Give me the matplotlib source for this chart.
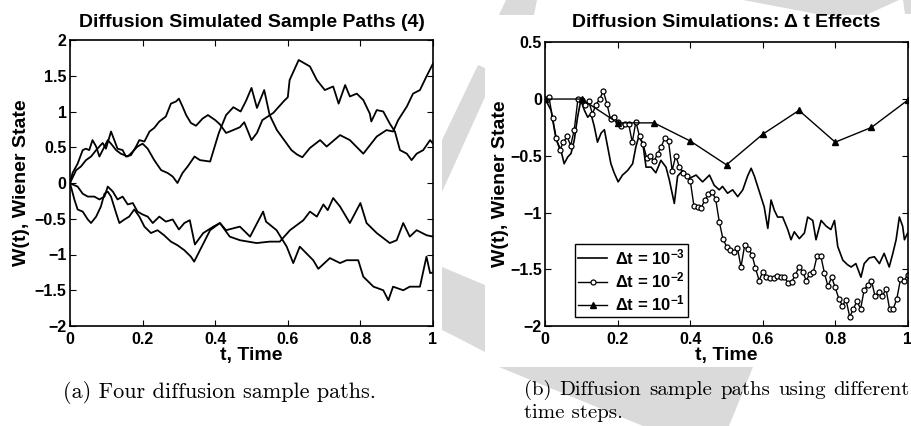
import matplotlib
matplotlib.use('Agg')
import numpy as np
import matplotlib.pyplot as plt
from matplotlib.patches import Polygon

plt.rcParams['font.family'] = ['Liberation Sans', 'DejaVu Sans']
plt.rcParams['font.weight'] = 'bold'
plt.rcParams['mathtext.fontset'] = 'custom'
plt.rcParams['mathtext.rm'] = 'Liberation Sans:bold'
plt.rcParams['mathtext.it'] = 'Liberation Sans:bold'
plt.rcParams['mathtext.bf'] = 'Liberation Sans:bold'
plt.rcParams['mathtext.default'] = 'bf'

# left panel: four sample paths
path_a_t = [0, 0.017, 0.03, 0.044, 0.058, 0.072, 0.09, 0.099, 0.113, 0.122,
            0.131, 0.145, 0.154, 0.168, 0.182, 0.191, 0.205, 0.219, 0.232, 0.246,
            0.264, 0.278, 0.292, 0.3, 0.31, 0.32, 0.333, 0.347, 0.365, 0.38,
            0.4, 0.413, 0.43, 0.44, 0.468, 0.48, 0.5, 0.515, 0.53, 0.56,
            0.59, 0.6, 0.605, 0.63, 0.661, 0.68, 0.702, 0.725, 0.74, 0.758,
            0.771, 0.79, 0.808, 0.826, 0.83, 0.845, 0.863, 0.881, 0.895, 0.909,
            0.928, 0.941, 0.955, 0.973, 0.992, 1.0]
path_a_v = [0, 0.18, 0.23, 0.32, 0.37, 0.46, 0.56, 0.48, 0.72, 0.6,
            0.48, 0.46, 0.37, 0.39, 0.51, 0.6, 0.58, 0.72, 0.77, 0.86,
            0.93, 1.11, 1.14, 1.18, 1.07, 0.95, 0.84, 0.8, 0.9, 0.95,
            0.88, 0.82, 0.7, 0.72, 0.78, 0.85, 0.6, 0.7, 0.88, 0.98,
            1.15, 1.2, 1.44, 1.72, 1.63, 1.44, 1.3, 1.35, 1.11, 1.37,
            1.21, 1.25, 1.16, 0.97, 0.86, 1.02, 1.0, 0.83, 0.72, 0.46,
            0.41, 0.32, 0.41, 0.46, 0.6, 0.55]

path_b_t = [0, 0.007, 0.021, 0.035, 0.044, 0.053, 0.062, 0.072, 0.081, 0.095,
            0.104, 0.113, 0.127, 0.14, 0.159, 0.173, 0.186, 0.2, 0.214, 0.232,
            0.251, 0.269, 0.283, 0.296, 0.31, 0.324, 0.343, 0.358, 0.386, 0.41,
            0.43, 0.45, 0.47, 0.485, 0.5, 0.515, 0.535, 0.55, 0.57, 0.59,
            0.61, 0.625, 0.64, 0.661, 0.689, 0.707, 0.744, 0.771, 0.808, 0.845,
            0.872, 0.89, 0.904, 0.928, 0.945, 0.964, 0.982, 1.0]
path_b_v = [0, 0.14, 0.27, 0.46, 0.48, 0.46, 0.6, 0.51, 0.37, 0.51,
            0.6, 0.55, 0.46, 0.41, 0.37, 0.44, 0.51, 0.55, 0.48, 0.32,
            0.18, 0.14, 0.09, 0.0, 0.14, 0.23, 0.37, 0.32, 0.3, 0.7,
            0.95, 1.06, 1.0, 1.15, 1.33, 1.05, 1.3, 0.95, 0.74, 0.6,
            0.46, 0.4, 0.36, 0.49, 0.6, 0.51, 0.67, 0.6, 0.41, 0.65,
            0.74, 0.72, 0.88, 1.07, 1.25, 1.3, 1.49, 1.67]

path_c_t = [0, 0.007, 0.021, 0.035, 0.049, 0.067, 0.081, 0.095, 0.104, 0.118,
            0.131, 0.145, 0.159, 0.173, 0.186, 0.2, 0.214, 0.228, 0.246, 0.264,
            0.283, 0.3, 0.315, 0.33, 0.344, 0.367, 0.395, 0.413, 0.44, 0.468,
            0.514, 0.55, 0.578, 0.606, 0.643, 0.661, 0.68, 0.698, 0.71, 0.725,
            0.744, 0.771, 0.8, 0.817, 0.845, 0.881, 0.9, 0.918, 0.936, 0.955,
            0.982, 1.0]
path_c_v = [0, -0.02, -0.05, -0.15, -0.19, -0.19, -0.23, -0.19, -0.05, -0.12,
            -0.23, -0.19, -0.3, -0.28, -0.4, -0.44, -0.47, -0.56, -0.47, -0.54,
            -0.51, -0.65, -0.56, -0.52, -0.86, -0.7, -0.61, -0.56, -0.75, -0.8,
            -0.84, -0.82, -0.82, -0.66, -0.52, -0.4, -0.47, -0.3, -0.38, -0.21,
            -0.33, -0.56, -0.28, -0.56, -0.7, -0.84, -0.8, -0.56, -0.75, -0.66,
            -0.73, -0.75]

path_d_t = [0, 0.012, 0.021, 0.035, 0.049, 0.058, 0.072, 0.085, 0.095, 0.104,
            0.113, 0.127, 0.136, 0.15, 0.163, 0.177, 0.191, 0.205, 0.223, 0.241,
            0.259, 0.278, 0.296, 0.315, 0.333, 0.342, 0.358, 0.386, 0.413, 0.43,
            0.468, 0.496, 0.532, 0.54, 0.569, 0.597, 0.615, 0.633, 0.67, 0.684,
            0.716, 0.744, 0.762, 0.794, 0.808, 0.836, 0.863, 0.877, 0.89, 0.918,
            0.936, 0.964, 0.982, 0.992, 1.0]
path_d_v = [0, -0.23, -0.37, -0.4, -0.51, -0.56, -0.47, -0.33, -0.15, -0.12,
            -0.19, -0.42, -0.56, -0.51, -0.47, -0.37, -0.47, -0.61, -0.7, -0.66,
            -0.73, -0.82, -0.87, -0.94, -1.03, -1.1, -0.94, -0.66, -0.56, -0.66,
            -0.61, -0.75, -0.4, -0.54, -0.66, -0.89, -1.12, -0.89, -1.08, -1.2,
            -1.05, -1.12, -1.08, -1.08, -1.31, -1.45, -1.5, -1.64, -1.45, -1.5,
            -1.45, -1.45, -1.03, -1.26, -1.25]

# right panel: same path at three step sizes
fine_t = [0, 0.016, 0.03, 0.043, 0.052, 0.062, 0.071, 0.08, 0.089, 0.098,
          0.108, 0.117, 0.126, 0.135, 0.144, 0.154, 0.163, 0.172, 0.181, 0.19,
          0.201, 0.213, 0.227, 0.241, 0.25, 0.258, 0.269, 0.278, 0.292, 0.305,
          0.319, 0.333, 0.342, 0.356, 0.365, 0.379, 0.397, 0.416, 0.434, 0.453,
          0.466, 0.48, 0.489, 0.503, 0.517, 0.531, 0.545, 0.558, 0.568, 0.577,
          0.586, 0.595, 0.604, 0.614, 0.623, 0.632, 0.641, 0.655, 0.669, 0.678,
          0.687, 0.701, 0.715, 0.724, 0.738, 0.747, 0.761, 0.775, 0.788, 0.798,
          0.807, 0.821, 0.834, 0.844, 0.857, 0.871, 0.88, 0.894, 0.908, 0.922,
          0.935, 0.949, 0.959, 0.968, 0.977, 0.986, 0.991, 1.0]
fine_v = [0, -0.1, -0.36, -0.45, -0.57, -0.51, -0.48, -0.36, -0.16, -0.01,
          -0.1, -0.16, -0.13, -0.24, -0.38, -0.3, -0.27, -0.42, -0.57, -0.65,
          -0.73, -0.67, -0.63, -0.57, -0.42, -0.33, -0.39, -0.6, -0.6, -0.65,
          -0.54, -0.6, -0.71, -0.92, -0.68, -0.63, -0.7, -0.67, -0.73, -0.67,
          -0.76, -0.8, -0.77, -0.83, -0.8, -0.86, -0.8, -0.68, -0.61, -0.68,
          -0.77, -0.86, -0.95, -1.14, -0.89, -0.98, -1.04, -1.04, -1.15, -1.24,
          -1.17, -1.23, -1.18, -1.04, -1.07, -1.24, -1.07, -1.12, -1.15, -1.07,
          -1.3, -1.42, -1.46, -1.48, -1.45, -1.57, -1.45, -1.4, -1.39, -1.45,
          -1.36, -1.48, -1.36, -1.24, -1.04, -1.12, -1.24, -1.18]

mid_v = [0, 0.02, -0.17, -0.34, -0.45, -0.38, -0.33, -0.41, -0.27, 0.0,
         -0.01, -0.05, -0.02, -0.13, -0.05, 0.0, 0.07, -0.04, -0.18, -0.16,
         -0.2, -0.24, -0.22, -0.22, -0.38, -0.2, -0.33, -0.4, -0.52, -0.5,
         -0.55, -0.48, -0.42, -0.34, -0.37, -0.63, -0.5, -0.6, -0.65, -0.68,
         -0.72, -0.94, -0.95, -0.96, -0.89, -0.84, -0.82, -0.88, -1.08, -1.23,
         -1.3, -1.33, -1.35, -1.31, -1.48, -1.29, -1.32, -1.37, -1.49, -1.6,
         -1.52, -1.57, -1.58, -1.58, -1.56, -1.57, -1.57, -1.62, -1.61, -1.55,
         -1.48, -1.52, -1.6, -1.54, -1.52, -1.38, -1.38, -1.53, -1.65, -1.57,
         -1.66, -1.76, -1.82, -1.77, -1.92, -1.85, -1.78, -1.85, -1.68, -1.64,
         -1.6, -1.74, -1.7, -1.74, -1.67, -1.85, -1.85, -1.76, -1.59, -1.6,
         -1.55]
mid_t = np.arange(len(mid_v)) * 0.01

coarse_v = [0, 0, -0.21, -0.21, -0.37, -0.58, -0.31, -0.1, -0.38, -0.25, -0.01]
coarse_t = np.arange(len(coarse_v)) * 0.1

x_ticks = [0, 0.2, 0.4, 0.6, 0.8, 1]
x_labels = ['0', '0.2', '0.4', '0.6', '0.8', '1']
left_y_ticks = [-2, -1.5, -1, -0.5, 0, 0.5, 1, 1.5, 2]
left_y_labels = ['\u22122', '\u22121.5', '\u22121', '\u22120.5', '0', '0.5', '1', '1.5', '2']
right_y_ticks = [-2, -1.5, -1, -0.5, 0, 0.5]
right_y_labels = ['\u22122', '\u22121.5', '\u22121', '\u22120.5', '0', '0.5']
legend_labels = ['$\\Delta$t = 10$^{-3}$', '$\\Delta$t = 10$^{-2}$', '$\\Delta$t = 10$^{-1}$']
caption_b_words = ['(b)', 'Diffusion', 'sample', 'paths', 'using', 'different']

W, H = 912, 426
fig = plt.figure(figsize=(W / 100, H / 100), dpi=100)

# light grey watermark pieces peeking around the two sub-figures
wm = '#dadada'
wm_shapes = [
    [(499, 15), (506, 0), (537, 0), (534, 15)],
    [(743, 0), (899, 0), (866, 15), (822, 15)],
    [(903, 0), (912, 0), (912, 14), (905, 14)],
    [(442, 140), (478, 65), (485, 68), (485, 97), (442, 192)],
    [(442, 267), (485, 285), (485, 352), (456, 337), (442, 330)],
    [(499, 367), (753, 367), (729, 426), (643, 426)],
]
for shp in wm_shapes:
    fig.add_artist(Polygon([(x / W, 1 - y / H) for x, y in shp], closed=True,
                           transform=fig.transFigure, facecolor=wm,
                           edgecolor='none', zorder=0))

ax1 = fig.add_axes([70 / W, 1 - 326 / H, 363 / W, 286 / H])
ax2 = fig.add_axes([545.3 / W, 1 - 326 / H, 362.4 / W, 283.7 / H])


def style(ax):
    ax.tick_params(direction='in', top=True, right=True, length=4, width=0.8,
                   labelsize=11.5)
    ax.tick_params(axis='x', pad=4.5)
    ax.tick_params(axis='y', pad=2.5)
    for s in ax.spines.values():
        s.set_linewidth(1.2)
    for lab in ax.get_xticklabels() + ax.get_yticklabels():
        lab.set_fontweight('bold')


for tt, vv in [(path_a_t, path_a_v), (path_b_t, path_b_v),
               (path_c_t, path_c_v), (path_d_t, path_d_v)]:
    ax1.plot(tt, vv, color='black', linewidth=1.3)
ax1.set_xlim(0, 1)
ax1.set_ylim(-2, 2)
ax1.set_xticks(x_ticks, x_labels)
ax1.set_yticks(left_y_ticks, left_y_labels)
style(ax1)
ax1.set_title('Diffusion Simulated Sample Paths (4)', fontsize=14,
              fontweight='bold', pad=9.4)
ax1.set_xlabel('t, Time', fontsize=14, fontweight='bold', labelpad=0)
ax1.set_ylabel('W(t), Wiener State', fontsize=14, fontweight='bold', labelpad=3)

l1, = ax2.plot(fine_t, fine_v, color='black', linewidth=1.2)
l2, = ax2.plot(mid_t, mid_v, color='black', linewidth=1.0, marker='o',
               markersize=3.6, markerfacecolor='white', markeredgewidth=0.9)
l3, = ax2.plot(coarse_t, coarse_v, color='black', linewidth=1.0, marker='^',
               markersize=5, markerfacecolor='black')
ax2.set_xlim(0, 1)
ax2.set_ylim(-2, 0.5)
ax2.set_xticks(x_ticks, x_labels)
ax2.set_yticks(right_y_ticks, right_y_labels)
style(ax2)
ax2.set_title('Diffusion Simulations: \u0394 t Effects', fontsize=14,
              fontweight='bold', pad=10.8)
ax2.set_xlabel('t, Time', fontsize=14, fontweight='bold', labelpad=0)
ax2.set_ylabel('W(t), Wiener State', fontsize=14, fontweight='bold', labelpad=1)
leg = ax2.legend([l1, l2, l3], legend_labels, loc='lower left',
                 bbox_to_anchor=(0.082, 0.032), borderaxespad=0, fontsize=12,
                 handlelength=1.7, handletextpad=0.5, labelspacing=0.2,
                 borderpad=0.2, fancybox=False, edgecolor='black', framealpha=1)
leg.get_frame().set_linewidth(1.0)

# captions in Computer Modern
cap_a = dict(family='cmr10', fontsize=16, va='center', weight='normal')
cap_b = dict(family='cmr10', fontsize=15, va='center', weight='normal')
fig.text(220 / W, 1 - 392 / H, '(a) Four diffusion sample paths.', ha='center', **cap_a)
fig.text(524 / W, 1 - 413 / H, 'time steps.', ha='left', **cap_b)

# first line of caption (b) is justified out to the right edge
word_txt = [fig.text(0, 1 - 390 / H, w, ha='left', **cap_b) for w in caption_b_words]
fig.canvas.draw()
rend = fig.canvas.get_renderer()
widths = [t.get_window_extent(rend).width for t in word_txt]
x_left, x_right = 524, 910
gap = (x_right - x_left - sum(widths)) / (len(widths) - 1)
xp = x_left
for t, wd in zip(word_txt, widths):
    t.set_x(xp / W)
    xp += wd + gap

fig.savefig('out.png', dpi=100)
